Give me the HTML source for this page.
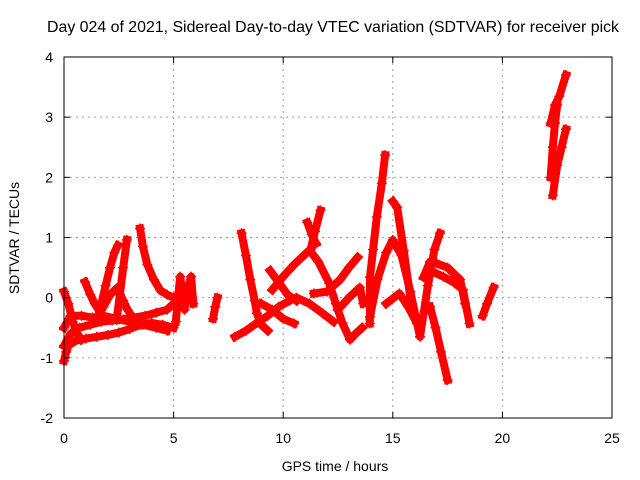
<!DOCTYPE html>
<html><head><meta charset="utf-8"><style>
html,body{margin:0;padding:0;background:#fff;}
svg{display:block;font-family:"Liberation Sans",sans-serif;}
</style></head><body>
<svg id="chart" width="640" height="480" viewBox="0 0 640 480">
<rect width="640" height="480" fill="#fff"/>
<text x="47" y="32" font-size="15.9" fill="#000">Day 024 of 2021, Sidereal Day-to-day VTEC variation (SDTVAR) for receiver pick</text>
<g id="grid"></g>
<g id="marks"></g>
<rect x="64" y="57" width="548" height="361" fill="none" stroke="#000" stroke-width="1"/>
<g id="ticks"></g>
<text x="335" y="471" font-size="14" text-anchor="middle">GPS time / hours</text>
<text transform="translate(19,238) rotate(-90)" font-size="14" text-anchor="middle">SDTVAR / TECUs</text>
</svg>
<script>
const xTicks=[0,5,10,15,20,25];
const yTicks=[-2,-1,0,1,2,3,4];
const trackA=[[0,-1.05],[0.1,-0.9],[0.2,-0.8],[0.5,-0.72],[1,-0.68],[1.5,-0.65],[2,-0.62],[2.5,-0.58],[3,-0.52],[3.5,-0.45],[4,-0.42],[4.5,-0.45],[5,-0.5]];
const trackB=[[0,-0.8],[0.3,-0.6],[0.7,-0.5],[1.2,-0.45],[1.7,-0.4],[2.2,-0.38],[2.7,-0.36],[3.2,-0.33],[3.7,-0.3],[4.2,-0.25],[4.7,-0.2],[5,-0.1]];
const trackC=[[0,-0.5],[0.3,-0.3],[0.8,-0.3],[1.3,-0.33],[1.8,-0.3],[2.4,-0.35],[3,-0.4],[3.6,-0.45],[4.2,-0.5],[4.7,-0.55]];
const trackD=[[0,0.1],[0.2,-0.1],[0.4,-0.4],[0.6,-0.6],[0.8,-0.7]];
const trackE=[[1.5,-0.35],[1.8,-0.15],[2.1,0.05],[2.42,0.16],[2.7,-0.05],[2.9,-0.2],[3.1,-0.32]];
const trackF=[[0.96,0.26],[1.2,0.05],[1.4,-0.1],[1.64,-0.24]];
const trackG=[[1.64,-0.2],[1.9,0.2],[2.1,0.5],[2.3,0.75],[2.46,0.87]];
const trackH=[[2.4,-0.37],[2.55,0.05],[2.7,0.5],[2.87,0.96]];
const trackI=[[3.47,1.15],[3.6,0.85],[3.8,0.55],[4.1,0.3],[4.4,0.12],[4.7,0.05],[5,0]];
const trackJ=[[5.1,-0.4],[5.2,0],[5.3,0.35],[5.5,-0.2],[5.6,0.1],[5.8,0.35],[5.9,-0.1]];
const trackK=[[6.8,-0.35],[6.9,-0.15],[7.0,0.0]];
const trackL=[[7.8,-0.65],[8.3,-0.55],[8.8,-0.42],[9.3,-0.3],[9.8,-0.15],[10.3,-0.05],[10.6,0],[11.2,-0.1],[11.8,-0.26],[12.3,-0.4]];
const trackM=[[8.1,1.07],[8.3,0.7],[8.5,0.3],[8.7,-0.05],[8.8,-0.26],[9.0,-0.45],[9.3,-0.55]];
const trackN=[[9.5,0.13],[10.0,0.35],[10.5,0.55],[11.2,0.79],[11.6,0.6],[12.1,0.24],[12.4,-0.1],[12.7,-0.42],[13.05,-0.7],[13.3,-0.6],[13.6,-0.5]];
const trackO=[[11.25,0.8],[11.45,1.1],[11.7,1.45]];
const trackP=[[11.1,1.25],[11.3,1.05],[11.5,0.9]];
const trackQ=[[11.4,0.07],[12.0,0.1],[12.6,0.3],[13.0,0.5],[13.4,0.67]];
const trackR=[[9.4,0.45],[9.8,0.25],[10.2,0.05],[10.6,-0.05]];
const trackS=[[9.0,-0.1],[9.5,-0.2],[10.0,-0.35],[10.5,-0.43]];
const trackT=[[12.5,-0.2],[13.0,0.0],[13.5,0.17],[13.65,-0.1]];
const trackU=[[13.95,-0.43],[13.96,0.34],[14.1,0.8],[14.27,1.34],[14.5,1.9],[14.65,2.37]];
const trackV=[[13.96,-0.32],[14.3,0.3],[14.7,0.75],[15.0,0.96],[15.4,0.7],[15.8,0.1],[16.24,-0.65],[16.6,0.2],[16.9,0.8],[17.15,1.07]];
const trackW=[[15.0,1.6],[15.2,1.5],[15.5,0.78],[15.8,0]];
const trackX=[[14.7,-0.1],[15.3,0.07],[15.7,-0.15],[16.1,-0.43]];
const trackY=[[16.7,-0.15],[16.95,-0.5],[17.2,-0.9],[17.5,-1.37]];
const trackZ=[[16.7,0.45],[17.3,0.35],[17.8,0.25],[18.2,0.13],[18.5,-0.43]];
const trackZ2=[[16.4,0.34],[16.7,0.6],[17.0,0.57],[17.5,0.5],[18.07,0.3],[18.3,-0.1]];
const trackZ3=[[19.1,-0.3],[19.3,-0.1],[19.6,0.17]];
const trackZ4=[[22.2,2.9],[22.4,3.2],[22.6,3.35],[22.9,3.7]];
const trackZ5=[[22.3,1.7],[22.5,2.2],[22.7,2.5],[22.9,2.8]];
const trackZ6=[[22.2,2.0],[22.3,2.5],[22.4,2.9],[22.5,3.2]];
const tracks=[trackA,trackB,trackC,trackD,trackE,trackF,trackG,trackH,trackI,trackJ,trackK,trackL,trackM,trackN,trackO,trackP,trackQ,trackR,trackS,trackT,trackU,trackV,trackW,trackX,trackY,trackZ,trackZ2,trackZ3,trackZ4,trackZ5,trackZ6];

const NS='http://www.w3.org/2000/svg';
const X0=64,X1=612,Y0=418,Y1=57,xmin=0,xmax=25,ymin=-2,ymax=4;
function sx(t){return X0+(t-xmin)/(xmax-xmin)*(X1-X0);}
function sy(v){return Y0-(v-ymin)/(ymax-ymin)*(Y0-Y1);}
function mk(tag,attrs,parent){const e=document.createElementNS(NS,tag);for(const k in attrs)e.setAttribute(k,attrs[k]);parent.appendChild(e);return e;}
const grid=document.getElementById('grid'),ticks=document.getElementById('ticks'),marks=document.getElementById('marks');
xTicks.forEach(t=>{
  const x=sx(t);
  if(t>xmin&&t<xmax){const g=mk('line',{x1:x,x2:x,y1:Y1,y2:Y0,stroke:'#a0a0a0','stroke-dasharray':'2,4'},grid);
  
  }
  mk('line',{x1:x,x2:x,y1:Y0,y2:Y0-6,stroke:'#000'},ticks);
  mk('line',{x1:x,x2:x,y1:Y1,y2:Y1+6,stroke:'#000'},ticks);
  const l=mk('text',{x:x,y:443,'font-size':14,'text-anchor':'middle'},ticks);l.textContent=t;
  
  
});
yTicks.forEach(v=>{
  const y=sy(v);
  if(v>ymin&&v<ymax){const g=mk('line',{x1:X0,x2:X1,y1:y,y2:y,stroke:'#a0a0a0','stroke-dasharray':'2,4'},grid);
  
  }
  mk('line',{x1:X0,x2:X0+6,y1:y,y2:y,stroke:'#000'},ticks);
  mk('line',{x1:X1,x2:X1-6,y1:y,y2:y,stroke:'#000'},ticks);
  const l=mk('text',{x:53,y:y+5,'font-size':14,'text-anchor':'end'},ticks);l.textContent=v;
  
  
});
tracks.forEach(tr=>{
  const pl=mk('polyline',{points:tr.map(p=>sx(p[0])+','+sy(p[1])).join(' '),fill:'none',stroke:'#ff0000','stroke-width':8,'stroke-linejoin':'round','stroke-linecap':'square'},marks);
  
  
  tr.forEach(p=>{
    const x=sx(p[0]),y=sy(p[1]);
    const m=mk('path',{d:`M${x-5},${y}H${x+5}M${x},${y-5}V${y+5}`,stroke:'#ff0000','stroke-width':1.5},marks);
    
    
  });
});
</script>
</body></html>
